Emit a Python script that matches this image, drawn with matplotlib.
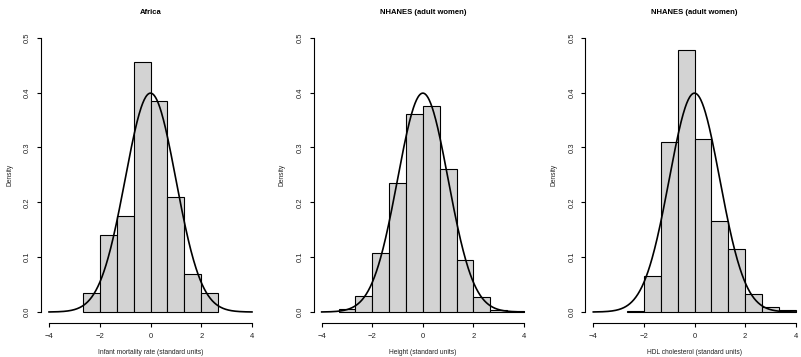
import numpy as np
import matplotlib.pyplot as plt

plt.rcParams['font.family'] = ['Liberation Sans', 'DejaVu Sans']

# histogram data (standard units, bin width 2/3)
titles = ['Africa', 'NHANES (adult women)', 'NHANES (adult women)']
xlabels = ['Infant mortality rate (standard units)',
           'Height (standard units)',
           'HDL cholesterol (standard units)']

africa_left = [-8/3, -2, -4/3, -2/3, 0, 2/3, 4/3, 2]
africa_dens = [0.035, 0.140, 0.175, 0.455, 0.385, 0.210, 0.070, 0.035]

height_left = [-10/3, -8/3, -2, -4/3, -2/3, 0, 2/3, 4/3, 2, 8/3, 10/3]
height_dens = [0.005, 0.030, 0.108, 0.236, 0.360, 0.375, 0.261, 0.095, 0.028, 0.003, 0.001]

hdl_left = [-8/3, -2, -4/3, -2/3, 0, 2/3, 4/3, 2, 8/3, 10/3]
hdl_dens = [0.002, 0.065, 0.309, 0.477, 0.315, 0.166, 0.115, 0.033, 0.010, 0.003]

lefts = [africa_left, height_left, hdl_left]
dens = [africa_dens, height_dens, hdl_dens]
bin_w = 2/3

W, H = 801, 357
fig = plt.figure(figsize=(W/100, H/100), dpi=100)

# axes pixel boxes: (left, right), top=26.7, bottom=323
xspans = [(40.9, 260.1), (313.6, 532.1), (585.2, 803.8)]
top, bottom = 26.7, 323.0

xs = np.linspace(-4, 4, 400)
normal = np.exp(-xs**2 / 2) / np.sqrt(2 * np.pi)

for i, (x0, x1) in enumerate(xspans):
    ax = fig.add_axes([x0/W, 1 - bottom/H, (x1-x0)/W, (bottom-top)/H])
    ax.bar(lefts[i], dens[i], width=bin_w, align='edge',
           color='#d3d3d3', edgecolor='black', linewidth=0.8)
    ax.plot(xs, normal, color='black', linewidth=1.2)

    ax.set_xlim(-4.32, 4.32)
    ax.set_ylim(-0.02, 0.52)
    ax.set_xticks([-4, -2, 0, 2, 4])
    ax.set_xticklabels(['\u22124', '\u22122', '0', '2', '4'])
    ax.set_yticks([0, 0.1, 0.2, 0.3, 0.4, 0.5])
    ax.set_yticklabels(['0.0', '0.1', '0.2', '0.3', '0.4', '0.5'],
                       rotation=90, va='center')
    for s in ['top', 'right']:
        ax.spines[s].set_visible(False)
    ax.spines['left'].set_bounds(0, 0.5)
    ax.spines['bottom'].set_bounds(-4, 4)
    ax.spines['left'].set_linewidth(0.8)
    ax.spines['bottom'].set_linewidth(0.8)
    ax.tick_params(length=3, width=0.8, labelsize=5.5, pad=4,
                   colors='black', labelcolor='#222222')
    ax.set_title(titles[i], fontsize=5.5, fontweight='bold', pad=9)
    ax.set_xlabel(xlabels[i], fontsize=4.8, labelpad=7, color='#222222')
    ax.set_ylabel('Density', fontsize=4.8, labelpad=8, color='#222222')
    ax.patch.set_visible(False)

fig.savefig('out.png', dpi=100)
